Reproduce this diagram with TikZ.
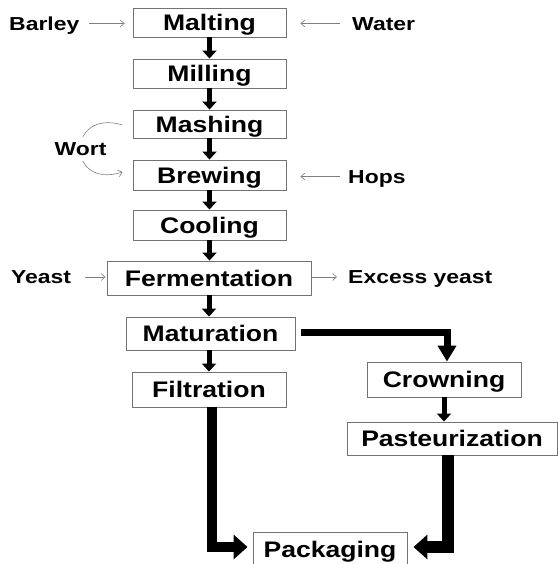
\documentclass[tikz,border=0pt]{standalone}
\usepackage{fontspec}
\setmainfont{Liberation Sans}
\newfontfamily\bxf[FakeStretch=1.18]{Liberation Sans}
\newfontfamily\lbf[FakeStretch=1.22]{Liberation Sans}
\usetikzlibrary{arrows.meta,calc}
\definecolor{boxline}{rgb}{0.45,0.45,0.45}
\definecolor{arrgray}{rgb}{0.5,0.5,0.5}
\tikzset{
  stepbox/.style={draw=boxline, line width=0.9pt, fill=white, inner sep=0pt,
    font=\bxf\bfseries\fontsize{22.5}{24}\selectfont, text height=16.1pt, text depth=0pt},
  lbl/.style={font=\lbf\bfseries\fontsize{18.8}{20}\selectfont, inner sep=0pt,
    text height=13.5pt, text depth=0pt, anchor=west},
  tarrow/.style={draw=arrgray, line width=0.6pt, -{Straight Barb[length=4pt,width=7pt]}},
  sarrow/.style={draw=black, line width=5pt, -{Triangle[length=8pt,width=14pt]}},
  marrow/.style={draw=black, line width=7pt, line join=miter, -{Triangle[length=16pt,width=18pt]}},
  barrow/.style={draw=black, line width=#1, line join=miter, -{Triangle[length=14pt,width=24pt]}},
}
\begin{document}
\begin{tikzpicture}[x=1pt,y=-1pt]
\useasboundingbox (0,0) rectangle (557,564);
% boxes
\node[stepbox, minimum width=153pt, minimum height=29pt] (malt) at (209.5,22.5) {Malting};
\node[stepbox, minimum width=153pt, minimum height=29pt] (mill) at (209.5,73.5) {Milling};
\node[stepbox, minimum width=153pt, minimum height=28pt] (mash) at (209.5,124) {Mashing};
\node[stepbox, minimum width=153pt, minimum height=30pt] (brew) at (209.5,175) {Brewing};
\node[stepbox, minimum width=153pt, minimum height=30pt] (cool) at (209.5,225) {Cooling};
\node[stepbox, minimum width=204pt, minimum height=34pt] (ferm) at (209,278) {Fermentation};
\node[stepbox, minimum width=169pt, minimum height=33pt] (mat) at (210.5,333.5) {Maturation};
\node[stepbox, minimum width=154pt, minimum height=35pt] (filt) at (209,389.5) {Filtration};
\node[stepbox, minimum width=154pt, minimum height=35pt] (crown) at (444,379.5) {Crowning};
\node[stepbox, minimum width=210pt, minimum height=33pt] (past) at (452,438.5) {Pasteurization};
\node[stepbox, minimum width=154pt, minimum height=34pt] (pack) at (330,549) {Packaging};
% side labels
\node[lbl] (barley) at (9,23.5) {Barley};
\node[lbl] (water) at (352,23.5) {Water};
\node[lbl] (hops) at (348,176.5) {Hops};
\node[lbl] (yeast) at (11,277) {Yeast};
\node[lbl] (excess) at (348,277) {Excess yeast};
% thin arrows
\draw[tarrow, shorten <=9pt, shorten >=8pt] (barley.east) -- (barley.east -| malt.west);
\draw[tarrow, shorten <=12pt, shorten >=14pt] (water.west) -- (water.west -| malt.east);
\draw[tarrow, shorten <=8pt, shorten >=14pt] (hops.west) -- (hops.west -| brew.east);
\draw[tarrow, shorten <=14pt, shorten >=1pt] (yeast.east) -- (yeast.east -| ferm.west);
\draw[tarrow, shorten >=11pt] (ferm.east |- excess.west) -- (excess.west);
% wort loop
\coordinate (w1) at ($(mash.west)+(-10,1)$);
\coordinate (w2) at ($(brew.west)+(-10,-3)$);
\draw[tarrow] (w1) .. controls (66,108) and (66,190) .. (w2);
\node[lbl, anchor=center, fill=white, inner xsep=1pt, inner ysep=5pt] (wort) at (80.5,149) {Wort};
% small block arrows
\draw[sarrow] (malt.south) -- (mill.north);
\draw[sarrow] (mill.south) -- (mash.north);
\draw[sarrow] (mash.south) -- (brew.north);
\draw[sarrow] (brew.south) -- (cool.north);
\draw[sarrow] (cool.south) -- (cool.south |- ferm.north);
\draw[sarrow] (ferm.south) -- (ferm.south |- mat.north);
\draw[sarrow] (mat.south -| filt.north) -- (filt.north);
\draw[sarrow] (crown.south) -- (crown.south |- past.north);
% big arrows
\draw[marrow, shorten <=6pt] ([yshift=1.5pt]mat.east) -| ([xshift=3pt]crown.north);
\draw[barrow=10pt, shorten >=5pt] ([xshift=3pt]filt.south) |- ([yshift=2pt]pack.west);
\draw[barrow=12pt, shorten >=6pt] ([xshift=-4pt]past.south) |- ([yshift=2pt]pack.east);
\end{tikzpicture}
\end{document}
